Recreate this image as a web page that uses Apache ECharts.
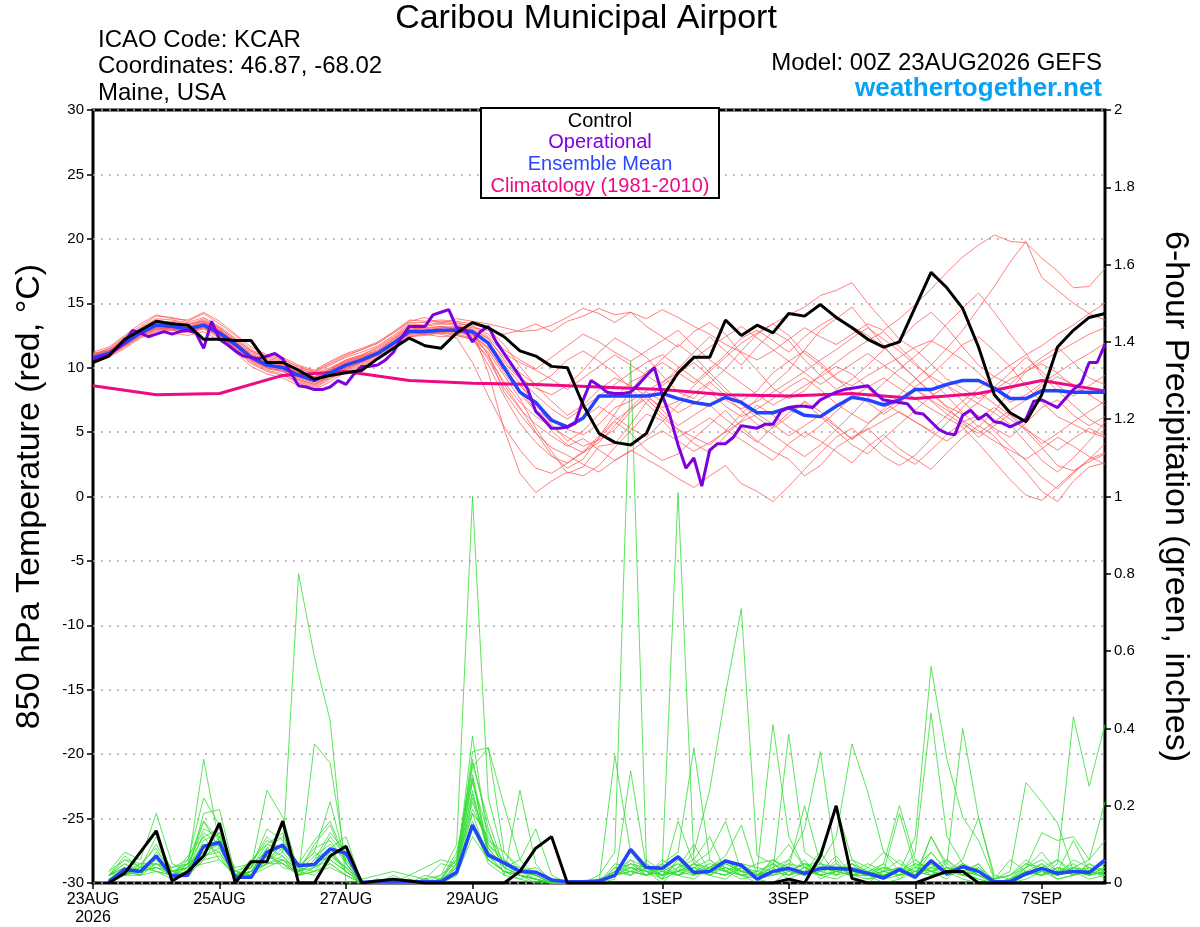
<!DOCTYPE html>
<html>
<head>
<meta charset="utf-8">
<script src="https://cdn.jsdelivr.net/npm/echarts@6/dist/echarts.min.js"></script>
<style>
html,body{margin:0;padding:0;background:#fff;}
#chart{width:1200px;height:927px;}
</style>
</head>
<body>
<div id="chart"></div>
<script>
// ---------------- DATA ----------------
const xTickHours = [0, 48, 96, 144, 216, 264, 312, 360];
const xTickLabels = ['23AUG\n2026', '25AUG', '27AUG', '29AUG', '1SEP', '3SEP', '5SEP', '7SEP'];

// forecast hours
const tempHours = Array.from({length: 65}, (_, i) => i * 6);
const precipHours = Array.from({length: 64}, (_, i) => (i + 1) * 6);
const opHours = Array.from({length: 129}, (_, i) => i * 3);
const climoHours = Array.from({length: 17}, (_, i) => i * 24);

// control (black) 850 hPa temperature, 6-hourly
const controlTemp = [10.4,10.9,12.2,12.9,13.6,13.4,13.3,12.2,12.2,12.1,12.1,10.4,10.4,
  9.8,9.1,9.4,9.6,9.8,10.7,11.5,12.3,11.7,11.5,12.7,13.5,13.1,
  12.4,11.3,10.9,10.1,10.0,7.1,4.9,4.2,4.0,4.9,7.7,9.6,10.8,
  10.8,13.7,12.5,13.3,12.7,14.2,14.0,14.9,13.9,13.1,12.2,11.6,12.0,
  14.7,17.4,16.2,14.6,11.6,7.9,6.5,5.8,7.9,11.6,12.9,13.9,14.2];

// ensemble mean (blue) temperature
const meanTemp = [10.8,11.1,11.9,12.7,13.3,13.2,13.0,13.3,12.7,11.8,10.8,10.2,10.0,
  9.4,9.0,9.6,10.2,10.6,11.1,11.9,12.8,12.8,12.9,12.9,12.8,11.9,
  10.0,8.1,7.3,5.9,5.4,6.1,7.8,7.8,7.8,7.8,8.0,7.6,7.3,
  7.1,7.7,7.3,6.5,6.5,6.9,6.3,6.2,7.0,7.7,7.5,7.1,7.5,
  8.3,8.3,8.7,9.0,9.0,8.4,7.6,7.6,8.2,8.2,8.1,8.1,8.1];

// operational (purple) temperature, 3-hourly
const opTemp = [10.6,10.8,11.0,11.5,12.0,12.9,12.7,12.4,
  12.6,12.8,12.6,12.8,12.9,12.7,11.5,13.6,
  12.2,11.8,11.3,10.9,10.8,10.7,10.9,11.1,
  10.7,9.6,8.6,8.5,8.3,8.3,8.5,9.0,
  8.7,9.5,10.1,10.1,10.2,10.6,11.2,12.3,
  13.2,13.2,13.2,14.1,14.3,14.5,13.1,13.0,
  12.0,12.8,13.2,12.0,11.1,10.2,9.3,8.3,
  6.6,6.0,5.3,5.3,5.4,5.7,7.5,9.0,
  8.6,8.1,8.0,8.0,8.1,8.7,9.4,10.0,
  7.9,6.2,4.0,2.2,3.0,0.8,3.6,4.1,
  4.1,4.6,5.5,5.4,5.3,5.6,5.6,6.6,
  6.9,7.0,7.0,6.9,7.5,7.8,8.1,8.3,
  8.4,8.5,8.6,8.0,7.5,7.4,7.3,7.2,
  6.5,6.4,5.8,5.2,4.9,4.8,6.3,6.7,
  6.0,6.4,5.8,5.7,5.4,5.7,6.0,7.4,
  7.5,7.2,6.9,7.6,8.3,8.8,10.4,10.4,
  11.8];

// climatology 1981-2010 (pink), daily
const climoTemp = [8.6,7.9,8.0,9.4,9.7,9.0,8.8,8.7,8.5,8.3,7.9,7.8,8.0,7.6,8.0,9.0,8.2];

// ensemble members (red) temperature, 6-hourly
const memberTemps = [
 [11.0,11.5,12.4,13.2,14.0,13.9,13.6,14.2,13.4,12.5,11.4,10.9,10.7,
  10.0,9.7,10.3,10.9,11.4,11.9,12.7,13.6,13.9,13.4,13.8,13.6,13.4,
  13.1,12.8,12.9,13.3,13.9,14.6,14.2,13.5,14.3,13.8,14.5,13.9,13.2,
  12.6,11.8,11.2,10.6,11.3,12.2,13.1,12.4,11.8,12.6,13.4,12.9,13.8,
  14.9,16.1,17.4,18.6,19.5,20.3,19.8,19.7,18.5,17.5,16.2,16.3,17.7],
 [10.6,10.9,11.6,12.4,13.0,12.9,12.8,13.1,12.4,11.5,10.4,9.8,9.5,
  8.9,8.5,9.2,9.9,10.4,11.0,11.8,12.6,12.7,12.9,13.1,12.9,9.6,
  5.2,1.8,0.3,1.2,1.9,1.6,2.4,3.8,5.1,6.4,5.9,4.6,5.3,
  6.1,5.2,4.4,3.6,2.8,4.1,5.0,4.3,3.5,2.6,3.9,4.8,3.7,
  2.9,2.1,3.4,4.6,5.5,4.7,3.2,1.9,0.4,-0.4,1.2,2.3,2.6],
 [11.1,11.3,12.0,12.9,13.6,13.5,13.3,13.7,13.0,12.0,11.0,10.4,10.3,
  9.7,9.3,9.8,10.5,10.9,11.3,12.2,13.1,13.0,12.7,12.5,12.2,11.2,
  9.4,7.6,5.3,3.5,1.8,2.3,3.9,4.1,5.6,7.3,8.8,9.9,11.2,
  12.4,11.3,10.2,11.6,12.8,12.1,10.6,9.4,8.3,9.1,10.2,11.4,12.1,
  13.4,14.3,13.1,11.6,10.2,9.3,8.7,9.9,10.8,11.6,10.4,9.2,8.7],
 [10.9,11.2,12.1,13.0,13.5,13.6,13.4,13.6,13.1,12.2,11.3,10.7,10.5,
  9.9,9.5,10.0,10.6,11.0,11.6,12.4,13.3,13.2,13.4,13.3,13.1,12.9,
  12.6,12.9,13.4,12.8,13.6,14.0,14.6,14.1,14.3,13.2,12.4,11.6,12.8,
  13.5,12.6,11.1,9.8,8.4,7.6,8.2,9.5,10.4,11.3,12.1,12.8,11.6,
  10.4,9.1,7.8,6.5,5.4,6.6,8.2,9.7,10.3,9.6,8.5,7.9,8.3],
 [10.7,10.9,11.7,12.5,13.1,13.0,12.9,13.1,12.5,11.6,10.6,10.0,9.8,
  9.2,8.8,9.4,10.0,10.5,11.0,11.9,12.7,12.9,13.1,13.0,12.6,11.4,
  9.8,8.6,7.3,6.1,5.2,4.8,5.6,6.9,7.4,8.2,8.9,9.6,10.4,
  9.3,8.1,7.4,8.2,9.6,10.5,11.3,10.4,9.2,8.1,7.3,6.4,7.2,
  8.5,9.4,10.6,11.8,12.4,11.3,10.1,8.6,7.3,6.2,5.6,5.0,4.6],
 [10.5,10.8,11.5,12.3,12.8,12.7,12.5,12.8,12.1,11.2,10.1,9.5,9.2,
  8.6,8.3,8.9,9.7,10.1,10.7,11.5,12.4,12.5,12.7,12.6,12.3,10.2,
  7.8,5.7,4.2,3.1,2.6,3.4,4.5,5.8,4.9,3.6,2.8,3.3,4.5,
  5.6,6.7,5.4,4.3,3.5,2.9,1.6,2.4,3.8,4.6,5.3,4.1,3.2,
  2.5,3.6,4.8,5.8,6.3,5.1,3.9,2.8,1.5,0.6,1.8,2.9,4.1],
 [11.0,11.3,12.2,12.9,13.4,13.3,13.1,13.4,12.8,11.9,10.9,10.3,10.1,
  9.5,9.1,9.7,10.4,10.8,11.3,12.1,13.0,12.9,13.1,13.2,13.0,12.3,
  10.6,9.2,8.4,7.9,8.6,9.8,11.2,12.3,11.6,10.8,9.4,8.1,7.6,
  8.8,9.9,11.3,12.6,13.4,14.1,14.7,15.6,16.0,16.6,15.0,13.6,12.2,
  11.4,10.3,9.1,8.4,7.6,8.3,9.1,9.7,10.5,11.2,11.9,12.6,13.1],
 [10.8,11.0,11.8,12.6,13.2,13.1,13.0,13.2,12.6,11.7,10.7,10.1,9.9,
  9.3,8.9,9.5,10.1,10.6,11.2,12.0,12.9,12.6,12.8,12.7,12.5,11.6,
  10.2,8.8,7.1,5.6,4.3,5.1,6.4,7.6,8.9,9.5,10.7,11.8,10.9,
  9.6,8.4,7.2,6.1,5.3,6.2,7.4,6.6,5.5,4.4,5.6,6.8,7.9,
  9.1,10.2,11.5,12.9,14.6,16.3,18.2,19.8,17.0,16.0,15.0,14.2,13.7],
 [10.6,10.9,11.8,12.6,13.1,13.0,12.8,13.2,12.5,11.5,10.5,9.9,9.7,
  9.1,8.7,9.3,9.9,10.3,10.9,11.7,12.5,12.6,12.7,12.9,12.6,11.0,
  8.1,6.4,4.9,3.8,3.2,2.5,1.9,2.8,3.6,2.9,2.2,1.4,0.7,
  1.6,2.4,1.0,0.4,-0.4,0.8,2.1,3.4,4.6,5.3,4.2,3.1,2.4,
  3.2,4.5,5.7,6.9,8.1,7.2,6.3,5.1,3.8,2.4,2.0,2.7,3.3],
 [11.2,11.6,12.5,13.4,14.1,13.8,13.7,14.3,13.6,12.6,11.6,11.0,10.8,
  10.2,9.8,10.5,11.1,11.5,12.0,12.8,13.7,13.6,13.7,13.6,13.4,13.0,
  11.8,10.1,8.6,7.4,6.3,7.1,8.3,9.2,8.6,7.8,6.9,7.4,8.6,
  9.7,10.8,11.9,12.7,13.4,12.5,11.1,10.2,9.1,8.6,9.4,10.1,10.8,
  11.6,12.1,11.4,10.6,9.6,8.4,7.3,7.9,8.8,9.6,10.4,11.1,11.9],
 [10.7,11.0,11.8,12.6,13.0,13.1,13.0,13.2,12.6,11.7,10.6,10.0,9.8,
  9.0,8.6,9.3,10.0,10.5,11.1,11.9,12.7,12.8,12.6,12.3,10.4,7.8,
  5.4,3.6,2.2,1.8,2.6,3.5,4.7,5.9,6.8,7.6,6.4,5.2,4.1,
  3.4,4.7,5.9,7.1,6.3,5.4,4.6,5.5,6.6,7.7,8.5,9.2,8.4,
  7.6,6.8,6.1,5.4,4.1,2.7,1.3,0.1,-0.3,0.8,1.9,2.9,3.4],
 [10.9,11.3,12.1,12.8,13.5,13.4,13.2,13.5,12.9,12.0,11.1,10.5,10.2,
  9.6,9.2,9.9,10.5,10.9,11.4,12.2,13.1,13.0,13.2,13.1,12.9,12.2,
  10.8,9.6,8.7,9.4,10.6,11.3,10.5,9.6,8.4,7.2,6.1,5.2,4.6,
  4.0,5.1,6.4,7.6,8.7,9.8,11.4,12.9,13.8,14.7,13.2,11.7,10.3,
  9.2,8.1,7.0,6.4,7.3,8.5,9.6,10.8,9.7,8.6,7.8,8.6,9.4],
 [10.6,11.0,11.7,12.4,12.9,12.9,12.7,13.0,12.3,11.4,10.3,9.7,9.4,
  8.8,8.4,9.1,9.8,10.2,10.8,11.6,12.4,12.6,12.4,12.5,12.2,10.8,
  8.9,7.3,6.2,5.4,4.6,3.9,4.4,5.2,6.6,7.9,6.7,5.5,6.3,
  7.1,6.0,5.1,4.2,5.4,6.5,7.3,6.2,5.1,4.0,3.3,4.5,5.6,
  6.7,7.8,8.6,7.4,6.2,5.3,4.6,5.7,6.9,7.5,6.3,5.5,6.2],
 [11.1,11.4,12.2,13.0,13.7,13.5,13.3,13.8,13.1,12.1,11.2,10.6,10.4,
  9.9,9.6,10.2,10.8,11.2,11.7,12.5,13.4,13.3,13.5,13.4,13.3,12.6,
  11.4,10.6,9.9,10.8,11.7,12.6,12.0,11.2,10.5,11.3,12.1,12.9,11.7,
  10.6,9.7,8.8,7.9,7.1,7.8,8.6,9.3,10.1,9.5,8.4,7.3,6.5,
  5.8,5.1,6.3,7.4,8.4,9.3,10.2,11.0,11.7,12.6,13.3,14.2,15.0],
 [10.8,11.2,12.0,12.8,13.4,13.3,13.1,13.5,12.9,11.9,10.9,10.3,10.1,
  9.4,9.0,9.6,10.3,10.7,11.2,12.0,12.9,12.9,13.0,12.8,12.7,11.8,
  10.0,8.2,6.7,5.9,5.3,6.1,7.0,6.2,5.3,4.6,5.8,7.1,8.0,
  8.9,7.8,6.7,5.6,4.8,3.9,3.1,4.0,5.2,6.4,7.7,8.8,9.9,
  10.9,12.0,13.4,14.6,15.8,14.3,12.6,11.1,9.4,8.2,7.1,6.0,5.3],
 [10.7,11.1,11.9,12.7,13.2,13.2,13.0,13.3,12.7,11.8,10.8,10.2,10.0,
  9.4,9.0,9.7,10.3,10.7,11.2,12.0,12.8,12.8,12.9,13.0,12.8,12.0,
  10.4,9.1,7.9,6.8,6.0,6.9,7.8,8.7,9.6,10.4,11.0,10.1,9.2,
  8.3,7.5,6.8,7.4,8.1,8.9,9.7,10.6,11.4,12.3,13.1,12.2,11.3,
  10.2,9.3,8.6,7.9,7.2,6.5,5.6,4.2,2.8,1.9,3.0,4.3,5.8],
 [10.9,11.1,11.9,12.8,13.4,13.3,13.1,13.4,12.8,11.9,10.8,10.3,10.1,
  9.5,9.2,9.8,10.4,10.8,11.2,12.0,12.8,12.7,12.9,12.8,12.6,11.5,
  9.6,8.0,6.6,5.1,4.0,3.4,4.2,5.5,6.9,8.1,7.4,6.5,7.2,
  8.1,7.0,6.2,6.8,7.6,8.5,9.2,8.3,7.2,6.4,5.7,6.6,7.5,
  8.3,7.4,6.4,5.6,4.9,5.8,6.7,7.5,8.6,9.3,8.7,7.9,7.1],
 [10.8,11.3,12.1,12.9,13.5,13.4,13.2,13.6,12.9,12.0,11.0,10.4,10.2,
  9.6,9.3,9.9,10.6,11.0,11.5,12.3,13.2,13.1,13.2,13.0,12.7,11.0,
  8.7,6.9,5.0,3.2,2.2,2.9,4.6,6.4,8.2,9.7,10.4,9.6,8.8,
  9.9,11.0,12.3,12.9,12.1,11.2,12.4,13.3,14.0,13.2,12.5,11.6,10.4,
  9.2,8.0,6.9,5.8,4.6,5.5,6.4,5.3,4.1,4.9,5.8,6.6,7.4],
 [10.6,10.9,11.7,12.5,13.0,13.0,12.8,13.1,12.5,11.6,10.6,10.0,9.7,
  9.1,8.7,9.4,10.0,10.4,11.0,11.8,12.6,12.7,12.8,12.9,12.4,10.6,
  8.4,6.8,5.6,4.7,3.9,4.5,3.6,2.8,3.5,4.4,5.1,4.3,3.5,
  4.2,5.0,5.8,6.4,5.6,4.7,5.5,6.3,5.4,4.5,5.2,5.9,6.6,
  5.8,5.0,4.3,5.2,6.1,6.9,6.0,5.2,4.4,3.6,4.5,5.3,4.7],
 [11.0,11.4,12.3,13.1,13.8,13.7,13.5,13.9,13.2,12.3,11.3,10.8,10.6,
  10.1,9.7,10.4,11.0,11.4,11.9,12.7,13.5,13.5,13.6,13.5,13.2,12.4,
  11.1,10.4,9.8,9.1,8.3,9.2,10.1,11.0,10.2,9.4,8.6,9.5,10.7,
  11.6,12.4,13.2,12.3,11.4,10.5,9.6,8.7,9.5,10.3,11.1,10.2,9.3,
  8.4,7.5,6.7,5.9,5.1,4.3,3.6,2.9,3.7,4.6,3.9,3.1,2.5]
];

// control (black) 6-hour precipitation, inches
const controlPrecip = [0,0.025,0.08,0.135,0.005,0.03,0.07,0.155,0,0.055,0.055,0.16,0,0,0.07,0.095,
  0,0.005,0.01,0.005,0,0,0,0,0,0,0.03,0.09,0.12,0,0,0,
  0,0,0,0,0,0,0,0,0,0,0,0.01,0,0.07,0.2,0.012,
  0,0,0,0,0.015,0.03,0.03,0,0,0,0,0,0,0,0,0];

// ensemble mean (blue) precipitation
const meanPrecip = [0.002,0.035,0.03,0.07,0.018,0.02,0.095,0.105,0.015,0.015,0.08,0.098,0.045,0.048,0.088,0.077,
  0.002,0.003,0.003,0.003,0.003,0.003,0.028,0.15,0.072,0.052,0.03,0.028,0.008,0.003,0.003,0.005,
  0.02,0.087,0.04,0.038,0.068,0.027,0.03,0.057,0.046,0.01,0.03,0.038,0.025,0.038,0.038,0.035,
  0.025,0.013,0.035,0.015,0.058,0.024,0.042,0.03,0.003,0.003,0.024,0.038,0.025,0.03,0.027,0.06];

// ensemble members (green) precipitation
const memberPrecips = [
 [0.01,0.04,0.03,0.06,0.02,0.04,0.10,0.08,0.01,0.05,0.12,0.08,0.80,0.585,0.42,0,
  0,0,0.01,0,0,0,0.05,0.18,0.12,0.04,0.02,0,0,0,0,0,
  0.02,0.08,0.03,0,0.04,0.10,0.03,0.06,0.02,0,0.05,0.10,0.04,0.02,0.06,0.01,
  0,0.03,0.06,0.02,0.08,0.03,0.01,0,0,0,0.04,0.08,0.03,0.05,0.02,0.06],
 [0.02,0.06,0.04,0.10,0.03,0.05,0.14,0.12,0.02,0.04,0.10,0.13,0.02,0.36,0.31,0.05,
  0,0,0,0,0.01,0.02,0.10,1.00,0.22,0.06,0.03,0.01,0,0,0,0.01,
  0.03,0.02,0.05,0.01,0.16,0.05,0.02,0.01,0.04,0.01,0,0.03,0.05,0.02,0.01,0.03,
  0.02,0,0.01,0.05,0.02,0.06,0.02,0.01,0,0,0.02,0.04,0.01,0.02,0.05,0.03],
 [0.01,0.03,0.05,0.05,0.02,0.03,0.08,0.10,0.03,0.02,0.06,0.09,0.04,0.03,0.08,0.04,
  0,0.01,0,0,0,0.01,0.04,0.38,0.10,0.05,0.02,0.01,0,0,0,0.02,
  0.08,1.35,0.05,0.02,0.04,0.06,0.12,0.03,0.01,0.02,0.04,0.01,0.03,0.08,0.02,0.05,
  0.01,0.02,0.03,0.01,0.12,0.05,0.02,0.03,0,0,0.01,0.03,0.06,0.02,0.04,0.01],
 [0.02,0.05,0.02,0.08,0.04,0.06,0.22,0.15,0.02,0.03,0.05,0.06,0.03,0.05,0.12,0.07,
  0,0,0,0.01,0,0,0.03,0.34,0.35,0.20,0.06,0.02,0,0,0,0,
  0.03,0.05,0.02,0.04,1.01,0.06,0.03,0.02,0.05,0.01,0.02,0.06,0.02,0.04,0.03,0.02,
  0.03,0.01,0.02,0.04,0.03,0.01,0.05,0.02,0,0.01,0.03,0.02,0.04,0.03,0.01,0.02],
 [0.01,0.02,0.04,0.05,0.03,0.04,0.32,0.10,0.03,0.02,0.07,0.05,0.02,0.04,0.06,0.03,
  0,0,0.02,0,0,0.01,0.06,0.32,0.14,0.02,0.24,0.05,0,0,0,0,
  0.02,0.06,0.04,0.01,0.03,0.08,0.24,0.49,0.71,0.07,0.05,0.02,0.06,0.01,0.03,0.04,
  0.02,0.05,0.01,0.03,0.02,0.04,0.03,0.01,0,0.01,0.02,0.05,0.02,0.04,0.02,0.03],
 [0.01,0.03,0.02,0.07,0.02,0.03,0.18,0.19,0.02,0.04,0.24,0.17,0.03,0.10,0.15,0.05,
  0,0,0,0,0.02,0.01,0.08,0.28,0.09,0.04,0.06,0.14,0.02,0,0,0,
  0.04,0.03,0.02,0.05,0.02,0.01,0.04,0.06,0.03,0.02,0.06,0.03,0.05,0.03,0.07,0.02,
  0.04,0.08,0.03,0.12,0.56,0.32,0.17,0.11,0.01,0.02,0.06,0.03,0.02,0.04,0.03,0.05],
 [0.02,0.04,0.03,0.04,0.03,0.02,0.06,0.12,0.01,0.03,0.09,0.07,0.02,0.06,0.09,0.03,
  0,0.01,0,0,0,0,0.05,0.30,0.35,0.08,0.03,0.02,0,0,0,0.01,
  0.02,0.04,0.03,0.01,0.06,0.02,0.03,0.04,0.02,0.03,0.41,0.12,0.04,0.02,0.03,0.06,
  0.02,0.01,0.04,0.02,0.05,0.02,0.03,0.04,0.01,0.06,0.03,0.02,0.05,0.43,0.25,0.41],
 [0.03,0.06,0.05,0.09,0.02,0.05,0.12,0.14,0.03,0.05,0.08,0.10,0.03,0.07,0.10,0.06,
  0,0,0,0.02,0.01,0.05,0.04,0.24,0.07,0.03,0.01,0.03,0.01,0,0,0,
  0.03,0.02,0.06,0.03,0.02,0.04,0.06,0.03,0.05,0.04,0.03,0.385,0.08,0.05,0.12,0.36,
  0.235,0.08,0.05,0.03,0.06,0.02,0.04,0.03,0.01,0.02,0.05,0.03,0.02,0.06,0.04,0.03],
 [0.01,0.02,0.03,0.04,0.02,0.06,0.16,0.11,0.01,0.03,0.07,0.06,0.04,0.08,0.05,0.02,
  0,0,0,0,0,0,0.03,0.22,0.10,0.06,0.03,0.04,0.01,0,0,0,
  0.02,0.05,0.03,0.02,0.03,0.04,0.02,0.05,0.03,0.02,0.04,0.06,0.14,0.34,0.05,0.02,
  0.03,0.05,0.20,0.06,0.03,0.05,0.40,0.17,0.02,0.01,0.03,0.02,0.04,0.02,0.05,0.02],
 [0.02,0.03,0.04,0.06,0.03,0.04,0.09,0.10,0.02,0.04,0.14,0.11,0.05,0.04,0.07,0.04,
  0,0,0.01,0,0,0.02,0.06,0.27,0.08,0.05,0.04,0.02,0,0,0,0,
  0.03,0.04,0.02,0.06,0.03,0.05,0.08,0.16,0.03,0.05,0.06,0.04,0.20,0.05,0.03,0.04,
  0.02,0.03,0.18,0.04,0.08,0.03,0.05,0.02,0.01,0.03,0.26,0.21,0.155,0.03,0.02,0.06],
 [0.01,0.02,0.02,0.03,0.01,0.03,0.07,0.09,0.02,0.02,0.05,0.05,0.02,0.03,0.04,0.02,
  0,0,0,0,0,0,0.02,0.14,0.06,0.03,0.02,0.01,0,0,0,0,
  0.01,0.29,0.04,0.02,0.03,0.02,0.04,0.07,0.15,0.02,0.03,0.05,0.04,0.06,0.20,0.06,
  0.04,0.02,0.03,0.05,0.04,0.03,0.06,0.17,0.01,0.02,0.04,0.13,0.11,0.12,0.06,0.21],
 [0.02,0.05,0.03,0.07,0.02,0.03,0.11,0.13,0.02,0.03,0.06,0.08,0.03,0.05,0.08,0.03,
  0,0,0,0,0.01,0,0.04,0.21,0.09,0.04,0.02,0.01,0,0,0,0,
  0.33,0.08,0.03,0.05,0.08,0.35,0.06,0.03,0.02,0.01,0.03,0.04,0.02,0.05,0.04,0.03,
  0.05,0.03,0.04,0.02,0.12,0.04,0.03,0.05,0,0.01,0.04,0.06,0.03,0.11,0.03,0.04],
 [0.01,0.03,0.02,0.05,0.02,0.02,0.06,0.07,0.01,0.02,0.04,0.06,0.02,0.03,0.05,0.02,
  0,0,0,0,0,0.01,0.03,0.16,0.05,0.02,0.01,0,0,0,0,0,
  0.02,0.03,0.05,0.02,0.03,0.04,0.02,0.05,0.03,0.02,0.02,0.03,0.02,0.03,0.05,0.02,
  0.01,0.02,0.03,0.02,0.04,0.06,0.03,0.02,0,0,0.02,0.03,0.01,0.02,0.03,0.02],
 [0.02,0.04,0.03,0.05,0.04,0.05,0.08,0.11,0.02,0.06,0.10,0.09,0.04,0.09,0.11,0.05,
  0,0,0,0.01,0,0.01,0.06,0.19,0.11,0.08,0.04,0.03,0,0,0,0,
  0.05,0.04,0.03,0.02,0.05,0.03,0.05,0.04,0.02,0.03,0.05,0.02,0.04,0.03,0.02,0.05,
  0.03,0.04,0.02,0.08,0.44,0.12,0.05,0.03,0,0.01,0.03,0.05,0.02,0.04,0.06,0.11],
 [0.01,0.02,0.05,0.03,0.02,0.04,0.05,0.06,0.02,0.03,0.08,0.04,0.03,0.02,0.06,0.03,
  0,0,0,0,0,0,0.02,0.12,0.06,0.03,0.02,0.01,0,0,0,0,
  0.02,0.03,0.02,0.03,0.02,0.04,0.03,0.02,0.04,0.02,0.03,0.02,0.03,0.02,0.03,0.02,
  0.02,0.03,0.02,0.03,0.02,0.03,0.04,0.02,0,0,0.02,0.03,0.02,0.03,0.02,0.03],
 [0.03,0.08,0.06,0.18,0.05,0.03,0.13,0.10,0.04,0.05,0.11,0.09,0.05,0.11,0.16,0.06,
  0.01,0.02,0.03,0.02,0.04,0.06,0.05,0.26,0.13,0.05,0.03,0.02,0,0,0,0,
  0.04,0.02,0.04,0.03,0.02,0.05,0.04,0.06,0.03,0.02,0.06,0.03,0.05,0.04,0.03,0.05,
  0.02,0.04,0.03,0.06,0.03,0.04,0.02,0.05,0,0.01,0.05,0.04,0.06,0.03,0.02,0.04],
 [0.02,0.07,0.04,0.12,0.03,0.04,0.16,0.09,0.02,0.03,0.09,0.12,0.04,0.08,0.21,0.05,
  0,0,0,0,0,0.01,0.07,0.31,0.16,0.04,0.02,0.01,0,0,0,0,
  0.03,0.06,0.02,0.03,0.05,0.02,0.04,0.03,0.05,0.02,0.03,0.05,0.02,0.04,0.03,0.02,
  0.03,0.02,0.04,0.03,0.05,0.02,0.03,0.02,0,0.01,0.03,0.02,0.04,0.02,0.03,0.05],
 [0.01,0.03,0.03,0.04,0.02,0.07,0.12,0.06,0.02,0.04,0.07,0.05,0.03,0.04,0.09,0.12,
  0,0,0,0,0,0,0.04,0.27,0.07,0.03,0.02,0.01,0,0,0,0,
  0.02,0.04,0.03,0.02,0.06,0.03,0.02,0.04,0.03,0.02,0.05,0.03,0.02,0.03,0.04,0.02,
  0.02,0.03,0.02,0.04,0.03,0.02,0.05,0.03,0,0,0.03,0.02,0.03,0.04,0.02,0.03],
 [0.02,0.04,0.02,0.07,0.02,0.05,0.09,0.13,0.01,0.02,0.06,0.10,0.02,0.06,0.13,0.08,
  0,0,0,0,0.01,0,0.05,0.23,0.08,0.05,0.03,0.02,0,0,0,0,
  0.03,0.05,0.04,0.02,0.03,0.05,0.03,0.02,0.04,0.03,0.02,0.04,0.03,0.05,0.02,0.03,
  0.02,0.04,0.03,0.02,0.04,0.03,0.02,0.04,0,0,0.02,0.04,0.02,0.03,0.04,0.02],
 [0.01,0.02,0.04,0.03,0.02,0.03,0.07,0.08,0.02,0.03,0.05,0.07,0.03,0.05,0.07,0.04,
  0,0,0,0,0,0,0.03,0.18,0.06,0.03,0.02,0.01,0,0,0,0,
  0.02,0.03,0.02,0.04,0.02,0.03,0.04,0.03,0.02,0.02,0.03,0.02,0.04,0.02,0.03,0.04,
  0.03,0.02,0.03,0.02,0.03,0.04,0.02,0.03,0,0,0.02,0.03,0.02,0.04,0.03,0.02]
];

// ---------------- CHART ----------------
const FONT = 'Liberation Sans, Arial, Helvetica, sans-serif';
const pairs = (hours, vals) => vals.map((v, i) => [hours[i], v]);

function lineSeries(name, hours, vals, axis, color, width, z) {
  return {
    name: name, type: 'line', yAxisIndex: axis, data: pairs(hours, vals),
    symbol: 'none', showSymbol: false, smooth: false, silent: true,
    lineStyle: {color: color, width: width}, z: z, animation: false
  };
}

const series = [];
memberPrecips.forEach((m, i) => series.push(lineSeries('p' + i, precipHours, m, 1, '#33dd33', 0.8, 1)));
memberTemps.forEach((m, i) => series.push(lineSeries('t' + i, tempHours, m, 0, '#ff5555', 0.75, 1)));
series.push(lineSeries('Climatology', climoHours, climoTemp, 0, '#ee0a84', 3, 3));
series.push(lineSeries('MeanP', precipHours, meanPrecip, 1, '#2244ff', 3.5, 4));
series.push(lineSeries('ControlP', precipHours, controlPrecip, 1, '#000000', 3, 5));
series.push(lineSeries('Mean', tempHours, meanTemp, 0, '#2244ff', 3.5, 4));
series.push(lineSeries('Operational', opHours, opTemp, 0, '#7d00dd', 3, 5));
series.push(lineSeries('Control', tempHours, controlTemp, 0, '#000000', 3, 6));

const legendItems = [
  {text: 'Control', color: '#000000'},
  {text: 'Operational', color: '#8000e0'},
  {text: 'Ensemble Mean', color: '#2a46ff'},
  {text: 'Climatology (1981-2010)', color: '#ee0a84'}
];

const graphics = [
  {type: 'text', x: 586, y: 19, z: 100, style: {text: 'Caribou Municipal Airport', font: '34px ' + FONT, fill: '#000', textAlign: 'center', textVerticalAlign: 'middle'}},
  {type: 'text', x: 98, y: 40, z: 100, style: {text: 'ICAO Code: KCAR', font: '24px ' + FONT, fill: '#000', textAlign: 'left', textVerticalAlign: 'middle'}},
  {type: 'text', x: 98, y: 66, z: 100, style: {text: 'Coordinates: 46.87, -68.02', font: '24px ' + FONT, fill: '#000', textAlign: 'left', textVerticalAlign: 'middle'}},
  {type: 'text', x: 98, y: 93, z: 100, style: {text: 'Maine, USA', font: '24px ' + FONT, fill: '#000', textAlign: 'left', textVerticalAlign: 'middle'}},
  {type: 'text', x: 1102, y: 63, z: 100, style: {text: 'Model: 00Z 23AUG2026 GEFS', font: '24px ' + FONT, fill: '#000', textAlign: 'right', textVerticalAlign: 'middle'}},
  {type: 'text', x: 1102, y: 89, z: 100, style: {text: 'weathertogether.net', font: 'bold 26px ' + FONT, fill: '#08a2f4', textAlign: 'right', textVerticalAlign: 'middle'}},
  {type: 'rect', z: 100, shape: {x: 481, y: 108, width: 238, height: 90}, style: {fill: '#fff', stroke: '#000', lineWidth: 2}}
];
legendItems.forEach((it, i) => graphics.push({
  type: 'text', x: 600, y: 121 + i * 21.7, z: 101,
  style: {text: it.text, font: '20px ' + FONT, fill: it.color, textAlign: 'center', textVerticalAlign: 'middle'}
}));

const chart = echarts.init(document.getElementById('chart'), null, {renderer: 'canvas'});
chart.setOption({
  animation: false,
  backgroundColor: '#fff',
  textStyle: {fontFamily: FONT},
  grid: {left: 93, top: 110, width: 1013, height: 773, show: true, borderColor: '#000', borderWidth: 3, backgroundColor: 'transparent', containLabel: false},
  xAxis: {
    type: 'value', min: 0, max: 384, position: 'bottom',
    axisLine: {show: false, onZero: false},
    axisTick: {show: true, length: 6, customValues: xTickHours, lineStyle: {color: '#000', width: 1.5}},
    axisLabel: {
      show: true, customValues: xTickHours, color: '#000', fontSize: 16, margin: 8, lineHeight: 18,
      formatter: v => { const i = xTickHours.indexOf(v); return i >= 0 ? xTickLabels[i] : ''; }
    },
    splitLine: {show: false}
  },
  yAxis: [
    {
      type: 'value', min: -30, max: 30, interval: 5, position: 'left',
      axisLine: {show: false},
      axisTick: {show: true, length: 6, lineStyle: {color: '#000', width: 1.5}},
      axisLabel: {color: '#000', fontSize: 15, margin: 9},
      splitLine: {show: true, lineStyle: {color: '#aaaaaa', type: [2, 6], width: 1.5}},
      name: '850 hPa Temperature (red, °C)', nameLocation: 'middle', nameGap: 46, nameRotate: 90,
      nameTextStyle: {color: '#000', fontSize: 34, fontFamily: FONT}
    },
    {
      type: 'value', min: 0, max: 2, interval: 0.2, position: 'right',
      axisLine: {show: false},
      axisTick: {show: true, length: 6, lineStyle: {color: '#000', width: 1.5}},
      axisLabel: {color: '#000', fontSize: 15, margin: 9, formatter: v => String(Math.round(v * 10) / 10)},
      splitLine: {show: false},
      name: '6-hour Precipitation (green, inches)', nameLocation: 'middle', nameGap: 53, nameRotate: -90,
      nameTextStyle: {color: '#000', fontSize: 34, fontFamily: FONT}
    }
  ],
  graphic: graphics,
  series: series
});
</script>
</body>
</html>
